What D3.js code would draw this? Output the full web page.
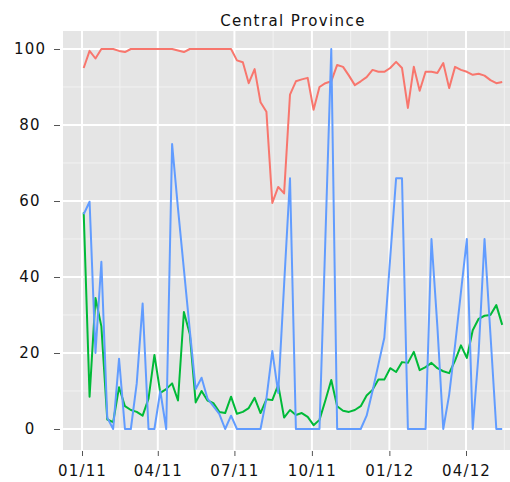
<!DOCTYPE html>
<html>
<head>
<meta charset="utf-8">
<script src="https://cdn.jsdelivr.net/npm/d3@7/dist/d3.min.js"></script>
<style>
  body { margin: 0; background: #ffffff; }
  svg { display: block; }
  .tick text { font-family: "DejaVu Sans", sans-serif; font-size: 15px; fill: #111111; letter-spacing: 1.2px; }
</style>
</head>
<body>
<svg id="chart" width="510" height="482"></svg>
<script>
// Weekly series for Central Province, starting on the first Monday of 2011
const chartTitle = "Central Province";
const startDate = "2011-01-03";

const redValues = [95, 99.5, 97.5, 100, 100, 100, 99.5, 99.2, 100, 100,
  100, 100, 100, 100, 100, 100, 99.6, 99.2, 100, 100,
  100, 100, 100, 100, 100, 100, 97, 96.5, 91, 94.7,
  86, 83.5, 59.5, 63.7, 62, 88, 91.5, 92, 92.4, 84,
  90, 91, 91.5, 95.8, 95.3, 93, 90.5, 91.5, 92.6, 94.5,
  94, 94, 95, 96.6, 95, 84.5, 95.3, 89, 94, 94,
  93.7, 96.3, 89.7, 95.3, 94.5, 94, 93.2, 93.5, 93, 91.8, 91, 91.3];

const greenValues = [57, 8.5, 34.5, 27, 2.5, 1.8, 11, 6, 5, 4.5,
  3.5, 8, 19.5, 9.5, 10.5, 12, 7.5, 30.8, 25, 7,
  10, 7.5, 6.8, 4.5, 4.2, 8.5, 4, 4.5, 5.5, 8.2,
  4.2, 7.8, 7.6, 11.6, 3, 5, 3.7, 4.2, 3.2, 1,
  2.4, 7.5, 12.9, 6, 4.8, 4.5, 5, 6, 8.8, 10.3,
  13, 13, 16, 15, 17.6, 17.4, 20.3, 15.5, 16.3, 17.4,
  16, 15.2, 14.7, 18, 22, 18.7, 26, 29, 29.8, 30, 32.6, 27.4];

const blueValues = [56.5, 59.8, 20, 44, 3, 0, 18.5, 0, 0, 12,
  33, 0, 0, 10, 0, 75, 58, 42, 26, 10.5,
  13.5, 8, 6, 4, 0, 3.5, 0, 0, 0, 0,
  0, 8, 20.5, 9.5, 38, 66, 0, 0, 0, 0,
  0, 50, 100, 0, 0, 0, 0, 0, 3.5, 10,
  17, 24, 45, 66, 66, 0, 0, 0, 0, 50,
  27, 0, 9, 22, 36, 50, 0, 20, 50, 25, 0, 0];

const xTickDates = ["2011-01-01", "2011-04-01", "2011-07-01", "2011-10-01", "2012-01-01", "2012-04-01"];
const xTickLabels = ["01/11", "04/11", "07/11", "10/11", "01/12", "04/12"];
const yTicks = [0, 20, 40, 60, 80, 100];
const yMinorTicks = [10, 30, 50, 70, 90];

const seriesColors = ["#F8766D", "#00BA38", "#619CFF"];

const parse = d3.utcParse("%Y-%m-%d");
const start = parse(startDate);
const weekDates = redValues.map((_, i) => d3.utcDay.offset(start, 7 * i));
const tickDates = xTickDates.map(parse);

const svg = d3.select("#chart");
const panel = { left: 63, right: 510, top: 31, bottom: 450 };

const x = d3.scaleUtc()
  .domain([tickDates[0], tickDates[tickDates.length - 1]])
  .range([82, 466]);
const y = d3.scaleLinear()
  .domain([0, 100])
  .range([429, 49]);

// Panel background
svg.append("rect")
  .attr("x", panel.left).attr("y", panel.top)
  .attr("width", panel.right - panel.left)
  .attr("height", panel.bottom - panel.top)
  .attr("fill", "#E5E5E5");

const grid = svg.append("g");

// Minor vertical breaks halfway between the date ticks
const tickNums = tickDates.map(d => +d);
const minorX = [];
for (let i = 0; i < tickNums.length - 1; i++) minorX.push((tickNums[i] + tickNums[i + 1]) / 2);
minorX.push(tickNums[tickNums.length - 1] + (tickNums[tickNums.length - 1] - tickNums[tickNums.length - 2]) / 2);
minorX.unshift(tickNums[0] - (tickNums[1] - tickNums[0]) / 2);

grid.selectAll(".minor-x").data(minorX.filter(v => x(v) > panel.left && x(v) < panel.right))
  .join("line")
  .attr("x1", d => x(d)).attr("x2", d => x(d))
  .attr("y1", panel.top).attr("y2", panel.bottom)
  .attr("stroke", "#F2F2F2").attr("stroke-width", 1);

grid.selectAll(".minor-y").data(yMinorTicks)
  .join("line")
  .attr("x1", panel.left).attr("x2", panel.right)
  .attr("y1", d => y(d)).attr("y2", d => y(d))
  .attr("stroke", "#F2F2F2").attr("stroke-width", 1);

grid.selectAll(".major-x").data(tickDates)
  .join("line")
  .attr("x1", d => x(d)).attr("x2", d => x(d))
  .attr("y1", panel.top).attr("y2", panel.bottom)
  .attr("stroke", "#FFFFFF").attr("stroke-width", 2);

grid.selectAll(".major-y").data(yTicks)
  .join("line")
  .attr("x1", panel.left).attr("x2", panel.right)
  .attr("y1", d => y(d)).attr("y2", d => y(d))
  .attr("stroke", "#FFFFFF").attr("stroke-width", 2);

// Series lines
svg.append("clipPath").attr("id", "panel-clip")
  .append("rect")
  .attr("x", panel.left).attr("y", panel.top)
  .attr("width", panel.right - panel.left)
  .attr("height", panel.bottom - panel.top);

const line = d3.line()
  .x((d, i) => x(weekDates[i]))
  .y(d => y(d));

const lines = svg.append("g").attr("clip-path", "url(#panel-clip)");
[redValues, greenValues, blueValues].forEach((values, k) => {
  lines.append("path")
    .datum(values)
    .attr("d", line)
    .attr("fill", "none")
    .attr("stroke", seriesColors[k])
    .attr("stroke-width", 2)
    .attr("stroke-linejoin", "round");
});

// Axes
const xAxis = d3.axisBottom(x)
  .tickValues(tickDates)
  .tickFormat((d, i) => xTickLabels[i])
  .tickSize(5)
  .tickPadding(9);
const gx = svg.append("g").attr("transform", `translate(0,${panel.bottom + 1})`).call(xAxis);
gx.select(".domain").remove();
gx.selectAll(".tick line").attr("stroke", "#555555");

const yAxis = d3.axisLeft(y)
  .tickValues(yTicks)
  .tickFormat(d3.format("d"))
  .tickSize(6);
const gy = svg.append("g").attr("transform", `translate(60,0)`).call(yAxis);
gy.select(".domain").remove();
gy.selectAll(".tick line").attr("stroke", "#555555");
gy.selectAll(".tick text").attr("text-anchor", "middle").attr("x", -30);

// Title
svg.append("text")
  .attr("x", 293).attr("y", 26)
  .attr("text-anchor", "middle")
  .style("font-family", "'DejaVu Sans', sans-serif")
  .style("font-size", "15px")
  .style("letter-spacing", "1.4px")
  .attr("fill", "#111111")
  .text(chartTitle);
</script>
</body>
</html>
